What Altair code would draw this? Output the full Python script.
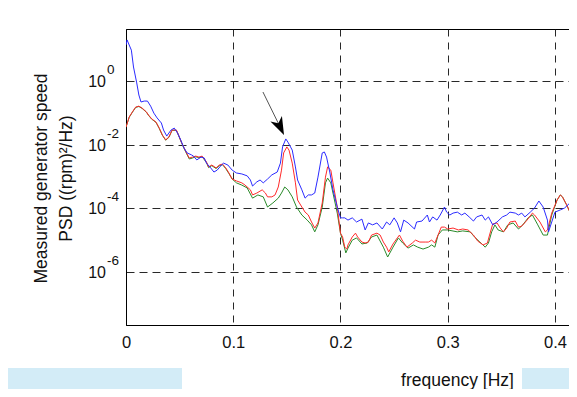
import altair as alt
import numpy as np
import pandas as pd

# ---- data (frequency in Hz, PSD as log10 exponent) ----
blue_f = [0.000,0.001,0.005,0.007,0.010,0.012,0.014,0.017,0.020,0.023,
          0.026,0.029,0.033,0.035,0.038,0.042,0.045,0.048,0.051,0.054,
          0.057,0.061,0.063,0.066,0.070,0.073,0.075,0.079,0.082,0.085,
          0.089,0.091,0.095,0.099,0.103,0.108,0.113,0.116,0.118,0.122,
          0.125,0.128,0.132,0.136,0.141,0.144,0.146,0.149,0.151,0.155,
          0.158,0.160,0.164,0.167,0.170,0.173,0.176,0.179,0.183,0.185,
          0.187,0.190,0.193,0.197,0.200,0.202,0.204,0.207,0.211,0.215,
          0.220,0.223,0.226,0.230,0.234,0.239,0.243,0.246,0.250,0.253,
          0.256,0.259,0.263,0.269,0.271,0.276,0.281,0.283,0.286,0.290,
          0.293,0.297,0.299,0.302,0.305,0.309,0.313,0.316,0.320,0.324,
          0.327,0.332,0.335,0.338,0.342,0.346,0.351,0.355,0.358,0.363,
          0.366,0.369,0.372,0.377,0.381,0.385,0.389,0.393,0.394,0.397,
          0.400,0.405,0.409,0.414,0.417,0.421]
blue_log = [1.13,1.29,0.97,0.44,-0.06,-0.44,-0.66,-0.63,-0.63,-0.79,
            -1.01,-1.16,-1.32,-1.54,-1.73,-1.54,-1.48,-1.63,-1.85,-2.10,
            -2.26,-2.32,-2.36,-2.48,-2.39,-2.42,-2.58,-2.73,-2.86,-2.80,
            -2.64,-2.58,-2.64,-2.80,-2.89,-2.92,-2.98,-3.11,-3.30,-3.17,
            -3.11,-3.20,-3.08,-2.95,-2.86,-2.58,-2.07,-1.82,-1.92,-2.17,
            -2.70,-3.11,-3.42,-3.68,-3.58,-3.58,-3.52,-3.02,-2.26,-2.23,
            -2.39,-2.86,-3.42,-3.96,-4.30,-4.30,-4.30,-4.37,-4.30,-4.43,
            -4.34,-4.68,-4.46,-4.52,-4.46,-4.65,-4.43,-4.52,-4.30,-4.46,
            -4.74,-4.37,-4.46,-4.65,-4.43,-4.40,-4.21,-4.43,-4.27,-4.37,
            -4.21,-3.96,-4.12,-4.21,-4.15,-4.12,-4.21,-4.15,-4.27,-4.40,
            -4.27,-4.21,-4.37,-4.27,-4.52,-4.43,-4.27,-4.21,-4.12,-4.15,
            -4.21,-4.15,-4.27,-4.12,-3.99,-3.77,-3.96,-4.37,-4.74,-4.43,
            -4.12,-4.05,-3.99,-3.83,-3.80,-3.90]

red_f = [0.000,0.003,0.006,0.009,0.012,0.015,0.019,0.021,0.024,0.028,
         0.031,0.034,0.037,0.040,0.043,0.047,0.049,0.052,0.056,0.059,
         0.062,0.065,0.068,0.071,0.075,0.077,0.080,0.084,0.087,0.090,
         0.093,0.096,0.099,0.103,0.108,0.111,0.116,0.118,0.122,0.127,
         0.130,0.132,0.136,0.139,0.142,0.145,0.147,0.150,0.152,0.155,
         0.158,0.160,0.164,0.167,0.170,0.173,0.176,0.179,0.183,0.186,
         0.188,0.191,0.193,0.197,0.200,0.202,0.204,0.206,0.207,0.211,
         0.214,0.216,0.220,0.223,0.226,0.229,0.234,0.237,0.240,0.243,
         0.245,0.249,0.253,0.255,0.258,0.262,0.267,0.270,0.274,0.279,
         0.282,0.285,0.288,0.291,0.294,0.297,0.300,0.305,0.310,0.314,
         0.319,0.324,0.328,0.333,0.337,0.339,0.342,0.346,0.349,0.352,
         0.355,0.358,0.363,0.366,0.369,0.374,0.379,0.381,0.386,0.391,
         0.393,0.397,0.402,0.405,0.407,0.411,0.414,0.417,0.421]
red_log = [-1.45,-1.13,-0.97,-0.82,-0.79,-0.85,-0.97,-1.07,-1.19,-1.29,
           -1.48,-1.70,-1.85,-1.76,-1.54,-1.54,-1.70,-1.95,-2.23,-2.42,
           -2.39,-2.36,-2.39,-2.36,-2.54,-2.70,-2.64,-2.73,-2.64,-2.61,
           -2.73,-2.89,-3.08,-3.14,-3.20,-3.27,-3.42,-3.58,-3.52,-3.42,
           -3.52,-3.64,-3.64,-3.58,-3.33,-2.80,-2.26,-2.07,-2.17,-2.58,
           -3.20,-3.74,-3.96,-4.12,-4.21,-4.43,-4.62,-4.46,-3.83,-3.02,
           -2.70,-2.80,-3.20,-3.96,-4.78,-4.90,-5.22,-5.28,-5.15,-4.90,
           -4.78,-4.90,-5.06,-5.09,-5.06,-4.84,-4.78,-4.84,-5.06,-5.22,
           -5.37,-5.12,-4.93,-4.84,-5.03,-5.22,-5.09,-5.00,-5.06,-5.06,
           -5.06,-5.00,-5.09,-4.84,-4.59,-4.59,-4.65,-4.62,-4.68,-4.65,
           -4.68,-4.84,-5.03,-5.15,-5.09,-4.84,-4.49,-4.46,-4.62,-4.74,
           -4.62,-4.43,-4.40,-4.59,-4.56,-4.37,-4.15,-4.21,-4.43,-4.74,
           -4.68,-4.15,-3.74,-3.58,-3.64,-3.90,-4.12,-4.21,-4.15]

green_f = [0.000,0.003,0.006,0.009,0.012,0.015,0.019,0.021,0.024,0.028,
           0.031,0.034,0.037,0.040,0.043,0.047,0.049,0.052,0.056,0.059,
           0.062,0.065,0.068,0.071,0.075,0.077,0.080,0.084,0.087,0.090,
           0.093,0.096,0.099,
           0.103,0.108,0.113,0.118,0.123,0.128,0.132,0.137,0.142,0.145,
           0.148,0.151,0.155,0.159,0.164,0.169,0.173,0.176,0.179,0.183,
           0.186,0.188,0.191,0.193,0.197,0.200,0.202,0.205,0.207,0.211,
           0.215,0.220,0.225,0.229,0.234,0.240,0.244,0.249,0.254,0.258,
           0.263,0.268,0.272,0.277,0.282,0.285,0.288,0.291,0.295,0.300,
           0.309,0.314,0.321,0.325,0.330,0.335,0.338,0.341,0.344,0.347,
           0.352,0.356,0.361,0.366,0.370,0.375,0.379,0.384,0.389,0.393,
           0.397,0.402,0.405,0.407,0.411,0.414,0.417,0.421]
green_log = [-1.45,-1.14,-0.98,-0.83,-0.80,-0.86,-0.98,-1.08,-1.20,-1.30,
             -1.49,-1.71,-1.86,-1.77,-1.55,-1.55,-1.71,-1.96,-2.25,-2.45,
             -2.42,-2.38,-2.41,-2.38,-2.56,-2.72,-2.66,-2.75,-2.66,-2.63,
             -2.75,-2.91,-3.08,
             -3.20,-3.27,-3.36,-3.68,-3.58,-3.64,-3.96,-3.83,-3.68,-3.52,
             -3.33,-3.42,-3.64,-3.96,-4.21,-4.37,-4.52,-4.74,-4.52,-3.96,
             -3.20,-3.05,-3.20,-3.52,-4.15,-4.78,-5.00,-5.40,-5.25,-5.00,
             -4.93,-5.12,-5.09,-4.90,-4.84,-5.22,-5.53,-5.22,-4.93,-5.09,
             -5.25,-5.15,-5.22,-5.28,-5.22,-5.15,-5.22,-4.84,-4.68,-4.68,
             -4.74,-4.71,-4.74,-4.90,-5.06,-5.22,-5.09,-4.74,-4.52,-4.68,
             -4.74,-4.52,-4.46,-4.65,-4.52,-4.30,-4.21,-4.52,-4.84,-4.84,
             -4.21,-3.74,-3.58,-3.64,-3.90,-4.12,-4.21,-4.15]

# y-axis ticks (decades) and their exponent labels
ytick_values = [1.0, 1e-2, 1e-4, 1e-6]
ytick_exponents = ["0", "-2", "-4", "-6"]
xtick_values = [0, 0.1, 0.2, 0.3, 0.4]

# annotation arrow (start, head) in data units
arrow_f = [0.1277, 0.1437]
arrow_psd = [0.451, 0.0361]

FONT = "Liberation Sans"


def frame(f, lg):
    return pd.DataFrame({"f": f, "psd": np.power(10.0, np.array(lg))})


xscale = alt.Scale(domain=[0, 0.4131], nice=False, zero=False)
yscale = alt.Scale(type="log", domain=[10 ** -7.666, 10 ** 1.634], nice=False)

xaxis = alt.Axis(values=xtick_values, labelExpr="datum.value == 0 ? '0' : format(datum.value, '.1f')",
                 grid=True, gridDash=[7, 6], gridColor="#111", gridOpacity=0.9, gridWidth=1,
                 ticks=False, domainColor="#000", labelFont=FONT, labelFontSize=16.5, labelColor="#111",
                 labelPadding=9, title="frequency [Hz]", titleFont=FONT, titleFontSize=17.5,
                 titleFontWeight="normal", titleColor="#111", titleX=331, titleY=55,
                 titleAlign="center", titleBaseline="middle", labelFlush=False)
yaxis = alt.Axis(values=ytick_values, labels=False, ticks=False, grid=True, gridDash=[8, 5],
                 gridColor="#111", gridOpacity=0.9, gridWidth=1, domainColor="#000",
                 title=["Measured generator speed", "PSD ((rpm)\u00b2/Hz)"], titleFont=FONT,
                 titleFontSize=17.5, titleFontWeight="normal", titleColor="#111", titleAngle=270,
                 titleX=-84.5, titleY=149, titleAlign="center", titleBaseline="middle",
                 titleLineHeight=25)


def series(f, lg, color):
    return alt.Chart(frame(f, lg)).mark_line(color=color, strokeWidth=1, clip=True).encode(
        x=alt.X("f:Q", scale=xscale, axis=xaxis),
        y=alt.Y("psd:Q", scale=yscale, axis=yaxis),
    )


green = series(green_f, green_log, "#2a8a2a")
red = series(red_f, red_log, "#ff2a2a")
blue = series(blue_f, blue_log, "#2b2bff")

tick_df = pd.DataFrame({"v": ytick_values, "e": ytick_exponents, "ten": ["10"] * 4})
ten_text = alt.Chart(tick_df).mark_text(font=FONT, fontSize=16, color="#111", align="right",
                                         baseline="middle", dy=1).encode(
    x=alt.value(-20), y=alt.Y("v:Q", scale=yscale), text="ten:N")
exp_text = alt.Chart(tick_df).mark_text(font=FONT, fontSize=13.5, color="#111", align="left",
                                         baseline="middle", dy=-11).encode(
    x=alt.value(-19), y=alt.Y("v:Q", scale=yscale), text="e:N")

arrow_df = pd.DataFrame({"f": [arrow_f[0]], "psd": [arrow_psd[0]],
                         "f2": [arrow_f[1]], "psd2": [arrow_psd[1]]})
arrow_line = alt.Chart(arrow_df).mark_rule(color="#555", strokeWidth=1).encode(
    x=alt.X("f:Q", scale=xscale), y=alt.Y("psd:Q", scale=yscale), x2="f2:Q", y2="psd2:Q")
head_df = pd.DataFrame({"f": [arrow_f[1]], "psd": [arrow_psd[1]]})
arrow_head = alt.Chart(head_df).mark_point(
    shape="M0,-1L0.7,1L0,0.45L-0.7,1Z", filled=True, color="#000", opacity=1,
    size=330, angle=154.5, strokeWidth=0).encode(
    x=alt.X("f:Q", scale=xscale), y=alt.Y("psd:Q", scale=yscale))

# light-blue page strips at the bottom of the figure
strip_df = pd.DataFrame({"a": [1]})
strip_left = alt.Chart(strip_df).mark_rect(color="#d3ecf7").encode(
    x=alt.value(-126), x2=alt.value(56), y=alt.value(339), y2=alt.value(368))
strip_right = alt.Chart(strip_df).mark_rect(color="#d3ecf7").encode(
    x=alt.value(396), x2=alt.value(460), y=alt.value(339), y2=alt.value(368))

chart = alt.layer(strip_left, strip_right, green, red, blue, ten_text, exp_text,
                  arrow_line, arrow_head).properties(
    width=443, height=296,
    autosize=alt.AutoSizeParams(type="none"),
    padding={"left": 118, "top": 21, "right": 0, "bottom": 64},
    background="white",
).configure_view(stroke="#000", strokeWidth=1)

chart.save("out.html", embed_options={"renderer": "svg", "actions": False})
